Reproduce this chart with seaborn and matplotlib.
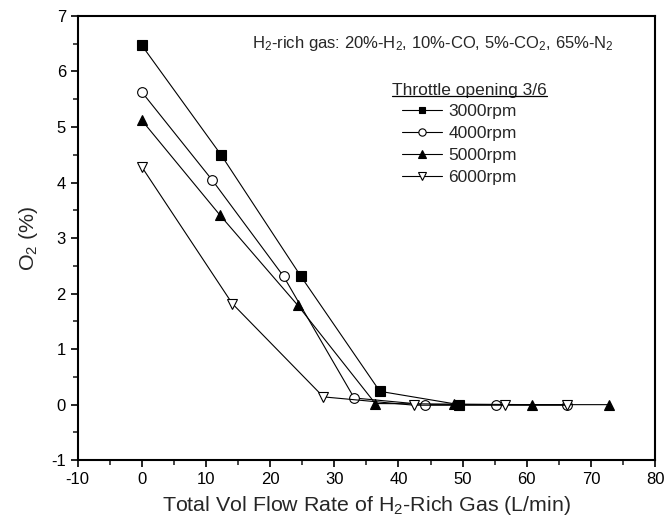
import numpy as np
import pandas as pd
import seaborn as sns
import matplotlib
matplotlib.use("Agg")
import matplotlib.pyplot as plt
from matplotlib.lines import Line2D
from matplotlib.ticker import MultipleLocator

# data
x_3000 = [0, 12.4, 24.8, 37.1, 49.5]
o2_3000 = [6.47, 4.49, 2.31, 0.24, 0.0]
x_4000 = [0, 11.0, 22.1, 33.1, 44.2, 55.2, 66.3]
o2_4000 = [5.63, 4.04, 2.31, 0.12, 0.0, 0.0, 0.0]
x_5000 = [0, 12.2, 24.3, 36.4, 48.6, 60.8, 72.9]
o2_5000 = [5.12, 3.41, 1.79, 0.02, 0.01, 0.0, 0.0]
x_6000 = [0, 14.1, 28.3, 42.4, 56.6, 66.3]
o2_6000 = [4.28, 1.82, 0.14, -0.01, -0.01, -0.01]

labels = ["3000rpm", "4000rpm", "5000rpm", "6000rpm"]

sns.set_style("ticks")
plt.rcParams["font.family"] = ["Liberation Sans", "DejaVu Sans"]
plt.rcParams["mathtext.fontset"] = "custom"
plt.rcParams["mathtext.rm"] = "Liberation Sans"
plt.rcParams["mathtext.it"] = "Liberation Sans"
plt.rcParams["axes.unicode_minus"] = False

fig = plt.figure(figsize=(6.64, 5.32), dpi=100)
ax = fig.add_axes([0.117, 0.135, 0.8695, 0.835])

series = [
    (x_3000, o2_3000, "s", "black", 6.5),
    (x_4000, o2_4000, "o", "white", 7),
    (x_5000, o2_5000, "^", "black", 7.5),
    (x_6000, o2_6000, "v", "white", 7.5),
]
for (xs, ys, mk, fc, ms), lab in zip(series, labels):
    df = pd.DataFrame({"x": xs, "y": ys})
    sns.lineplot(data=df, x="x", y="y", ax=ax, color="black", lw=0.8,
                 marker=mk, mfc=fc, mec="black", mew=0.8, ms=ms, label=lab)

ax.set_xlim(-10, 80)
ax.set_ylim(-1, 7)
ax.xaxis.set_major_locator(MultipleLocator(10))
ax.xaxis.set_minor_locator(MultipleLocator(5))
ax.yaxis.set_major_locator(MultipleLocator(1))
ax.yaxis.set_minor_locator(MultipleLocator(0.5))
ax.tick_params(which="major", direction="out", length=5, width=1.2, labelsize=12, colors="black")
ax.tick_params(which="minor", direction="out", length=3.5, width=1.2)
for s in ax.spines.values():
    s.set_linewidth(1.5)
    s.set_color("black")

ax.set_xlabel(r"Total Vol Flow Rate of H$\mathregular{_2}$-Rich Gas (L/min)", fontsize=15.4, labelpad=5)
ax.set_ylabel(r"O$\mathregular{_2}$ (%)", fontsize=15.4, labelpad=8)

ax.text(0.302, 0.939,
        r"H$\mathregular{_2}$-rich gas: 20%-H$\mathregular{_2}$, 10%-CO, 5%-CO$\mathregular{_2}$, 65%-N$\mathregular{_2}$",
        transform=ax.transAxes, ha="left", va="center", fontsize=12)

title = ax.text(0.544, 0.833, "Throttle opening 3/6", transform=ax.transAxes,
                ha="left", va="center", fontsize=12.5)

leg = ax.legend(loc="upper left", bbox_to_anchor=(0.562, 0.803),
                frameon=False, fontsize=12.5, handlelength=2.3, markerscale=0.75,
                handletextpad=0.35, labelspacing=0.4, borderpad=0, borderaxespad=0)

# underline the legend heading
fig.canvas.draw()
bb = title.get_window_extent(fig.canvas.get_renderer())
inv = fig.transFigure.inverted()
(x0, y0), (x1, y1) = inv.transform([[bb.x0, bb.y0], [bb.x1, bb.y1]])
fig.add_artist(Line2D([x0, x1], [y0 + 0.003, y0 + 0.003], color="black", lw=0.9,
                      transform=fig.transFigure))

fig.savefig("out.png", dpi=100)
